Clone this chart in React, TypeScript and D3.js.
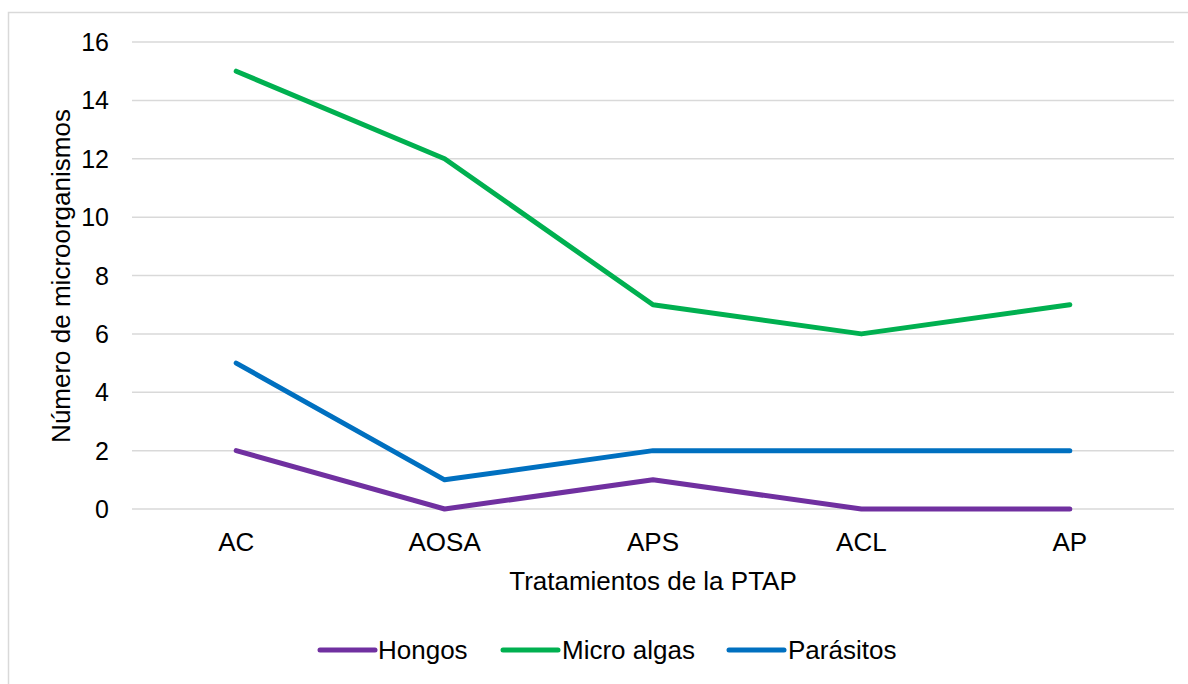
import React from "react";
import * as d3 from "d3";

const categories = ["AC", "AOSA", "APS", "ACL", "AP"];
const hongos = [2, 0, 1, 0, 0];
const microAlgas = [15, 12, 7, 6, 7];
const parasitos = [5, 1, 2, 2, 2];
const yTicks = [0, 2, 4, 6, 8, 10, 12, 14, 16];

const series = [
  { name: "Hongos", values: hongos, color: "#7030A0" },
  { name: "Micro algas", values: microAlgas, color: "#00B050" },
  { name: "Parásitos", values: parasitos, color: "#0070C0" },
];

export default function App() {
  const W = 1188, H = 684;
  const left = 132, right = 1174, top = 42, bottom = 509;
  const x = d3.scaleBand().domain(categories).range([left, right]);
  const y = d3.scaleLinear().domain([0, 16]).range([bottom, top]);
  const cx = (c: string) => (x(c) as number) + x.bandwidth() / 2;
  const font = "'Liberation Sans', Arial, sans-serif";
  const fs = 26;
  const line = d3.line<[string, number]>().x(d => cx(d[0])).y(d => y(d[1]));
  const legendItems = [
    { l1: 320, l2: 375, tx: 378 },
    { l1: 503, l2: 558, tx: 562 },
    { l1: 729, l2: 784, tx: 788 },
  ];
  return (
    <svg width={W} height={H} style={{ position: "absolute", left: 0, top: 0 }} fontFamily={font}>
      <rect x={0} y={0} width={W} height={H} fill="#fff" />
      <rect x={8.5} y={12.5} width={1300} height={800} fill="none" stroke="#D9D9D9" strokeWidth={1.5} />
      {yTicks.map(t => (
        <g key={t}>
          <line x1={left} x2={right} y1={y(t)} y2={y(t)} stroke="#D9D9D9" strokeWidth={1.5} />
          <text x={109} y={y(t) + 9} textAnchor="end" fontSize={25} fill="#000">{t}</text>
        </g>
      ))}
      {categories.map(c => (
        <text key={c} x={cx(c)} y={551} textAnchor="middle" fontSize={fs} fill="#000">{c}</text>
      ))}
      <text x={(left + right) / 2} y={590} textAnchor="middle" fontSize={fs} fill="#000">Tratamientos de la PTAP</text>
      <text transform={`translate(70, ${276}) rotate(-90)`} textAnchor="middle" fontSize={fs} fill="#000">Número de microorganismos</text>
      {series.map(s => (
        <path key={s.name} d={line(categories.map((c, i) => [c, s.values[i]]) as [string, number][]) || ""}
          fill="none" stroke={s.color} strokeWidth={5} strokeLinecap="round" strokeLinejoin="round" />
      ))}
      {series.map((s, i) => (
        <g key={s.name}>
          <line x1={legendItems[i].l1} x2={legendItems[i].l2} y1={650} y2={650} stroke={s.color} strokeWidth={5} strokeLinecap="round" />
          <text x={legendItems[i].tx} y={659} fontSize={fs} fill="#000">{s.name}</text>
        </g>
      ))}
    </svg>
  );
}
